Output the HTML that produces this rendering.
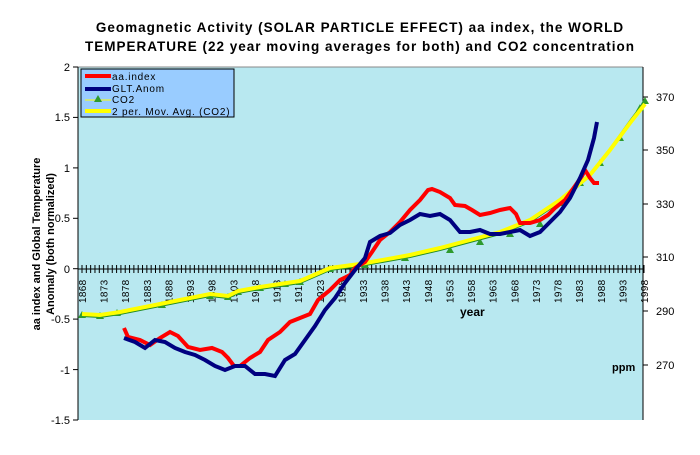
<!DOCTYPE html>
<html><head><style>
body{margin:0;background:#fff;width:700px;height:450px;overflow:hidden;font-family:"Liberation Sans",Arial,sans-serif}
</style></head><body>
<svg width="700" height="450" xmlns="http://www.w3.org/2000/svg" font-family="Liberation Sans, Arial, sans-serif">
<text x="360" y="32" text-anchor="middle" font-size="13.5" font-weight="bold" letter-spacing="1">Geomagnetic Activity (SOLAR PARTICLE EFFECT) aa index, the  WORLD</text>
<text x="360" y="51" text-anchor="middle" font-size="13.5" font-weight="bold" letter-spacing="1">TEMPERATURE (22 year moving averages for both) and CO2 concentration</text>
<rect x="78" y="67" width="565" height="353" fill="#b8e8f0"/>
<line x1="78" y1="67" x2="643" y2="67" stroke="#888"/>
<line x1="78" y1="67" x2="78" y2="420" stroke="#000"/>
<line x1="643" y1="67" x2="643" y2="420" stroke="#000"/>
<g stroke="#000">
<line x1="73" y1="67" x2="78" y2="67"/><line x1="73" y1="117.4" x2="78" y2="117.4"/><line x1="73" y1="167.9" x2="78" y2="167.9"/><line x1="73" y1="218.3" x2="78" y2="218.3"/><line x1="73" y1="268.7" x2="78" y2="268.7"/><line x1="73" y1="319.1" x2="78" y2="319.1"/><line x1="73" y1="369.6" x2="78" y2="369.6"/><line x1="73" y1="420" x2="78" y2="420"/>
<line x1="643" y1="97" x2="648" y2="97"/><line x1="643" y1="150" x2="648" y2="150"/><line x1="643" y1="204" x2="648" y2="204"/><line x1="643" y1="257" x2="648" y2="257"/><line x1="643" y1="311" x2="648" y2="311"/><line x1="643" y1="365" x2="648" y2="365"/>
</g>
<line x1="78" y1="269" x2="643" y2="269" stroke="#000"/>
<g stroke="#000" id="ticks"></g>
<g font-size="11" text-anchor="end">
<text x="70" y="71">2</text><text x="70" y="121">1.5</text><text x="70" y="172">1</text><text x="70" y="222">0.5</text><text x="70" y="273">0</text><text x="70" y="323">-0.5</text><text x="70" y="374">-1</text><text x="70" y="424">-1.5</text>
</g>
<g font-size="11">
<text x="656" y="101">370</text><text x="656" y="154">350</text><text x="656" y="208">330</text><text x="656" y="261">310</text><text x="656" y="315">290</text><text x="656" y="369">270</text>
</g>
<text x="612" y="371" font-size="11" font-weight="bold">ppm</text>
<text x="460" y="316" font-size="12" font-weight="bold">year</text>
<text transform="translate(40,244) rotate(-90)" text-anchor="middle" font-size="11" font-weight="bold">aa index and Global Temperature</text>
<text transform="translate(54,244) rotate(-90)" text-anchor="middle" font-size="11" font-weight="bold">Anomaly (both normalized)</text>
<g id="xl" font-size="10" letter-spacing="0.3"></g>
<polyline fill="none" stroke="#228b22" stroke-width="2" points="82,316 100,317 120,314 150,308 180,302 210,296 228,298 238,293 260,289 300,283 330,270 360,266 410,257 440,250 470,242 500,234 530,222 560,202 590,176 610,149 630,121 645,101"/>
<g fill="#2e9a2e" id="tri"></g>
<polyline fill="none" stroke="#ffff00" stroke-width="4" points="82,314 100,315 120,312 150,306 180,300 210,294 228,296 238,291 260,287 300,281 330,268 360,264 410,255 440,248 470,240 500,232 530,220 560,200 590,175 610,150 630,123 645,104"/>
<polyline fill="none" stroke="#ff0000" stroke-width="4" points="124,328 128,337 140,340 150,345 160,338 170,332 178,336 188,347 200,350 212,348 222,352 228,358 234,366 240,366 250,358 260,352 268,340 280,332 290,322 300,318 310,314 318,300 330,290 340,280 350,275 355,268 365,262 372,252 380,240 390,232 400,222 410,210 420,200 428,190 432,189 440,192 450,198 455,205 465,206 472,210 480,215 490,213 500,210 510,208 516,214 520,223 530,223 540,220 548,215 555,208 565,200 575,186 582,176 585,170 590,178 594,183 599,183"/>
<polyline fill="none" stroke="#000080" stroke-width="4" points="124,338 135,342 145,348 155,340 165,342 175,348 185,352 195,355 205,360 215,366 225,370 235,366 245,366 255,374 265,374 275,376 285,360 295,354 305,340 315,326 325,310 335,298 345,283 355,270 365,258 370,242 380,236 390,233 400,225 410,220 420,214 430,216 440,214 450,220 460,232 470,232 480,230 490,234 500,234 510,232 520,230 530,236 540,232 550,222 560,212 570,198 580,178 588,160 594,138 597,122"/>
<rect x="81" y="69" width="153" height="48" fill="#99ccff" stroke="#000"/>
<line x1="85" y1="76" x2="111" y2="76" stroke="#ff0000" stroke-width="4"/>
<line x1="85" y1="89" x2="111" y2="89" stroke="#000080" stroke-width="4"/>
<line x1="85" y1="100" x2="111" y2="100" stroke="#ffff00" stroke-width="1"/>
<polygon points="98,95 94,102 102,102" fill="#2e9a2e"/>
<line x1="85" y1="111" x2="111" y2="111" stroke="#ffff00" stroke-width="4"/>
<g font-size="10" letter-spacing="0.8"><text x="112" y="80">aa.index</text><text x="112" y="92">GLT.Anom</text><text x="112" y="103">CO2</text><text x="112" y="115">2 per. Mov. Avg. (CO2)</text></g>
</svg>
<script>
var s='http://www.w3.org/2000/svg',t=document.getElementById('ticks'),xl=document.getElementById('xl');
for(var y=1868;y<=1998;y++){var x=82+(y-1868)*4.323;var l=document.createElementNS(s,'line');l.setAttribute('x1',x);l.setAttribute('x2',x);l.setAttribute('y1',265);l.setAttribute('y2',273);t.appendChild(l);
if((y-1868)%5==0){var tx=document.createElementNS(s,'text');tx.setAttribute('transform','translate('+(x+4)+',303) rotate(-90)');tx.textContent=y;xl.appendChild(tx);}}
var tr=document.getElementById('tri'),pts=[[82,315],[100,316],[117,313],[162,305],[210,296],[228,297],[238,292],[260,288],[285,284],[300,282],[330,269],[365,265],[405,258],[450,250],[480,242],[510,234],[540,224],[560,203],[580,183],[600,163],[620,138],[640,108],[645,101]];
pts.forEach(function(p){var g=document.createElementNS(s,'polygon');g.setAttribute('points',p[0]+','+(p[1]-4)+' '+(p[0]-4)+','+(p[1]+3)+' '+(p[0]+4)+','+(p[1]+3));tr.appendChild(g);});
</script>
</body></html>
